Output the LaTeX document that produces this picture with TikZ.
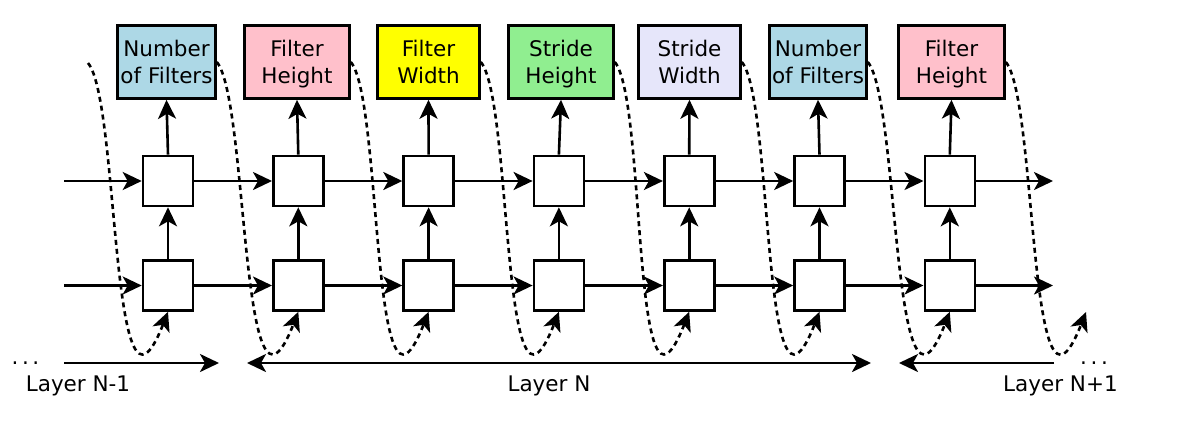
\documentclass[tikz,border=0pt]{standalone}
\usepackage{fontspec}
\setmainfont{DejaVu Sans}
\usetikzlibrary{arrows.meta}
\definecolor{cblue}{RGB}{173,216,230}
\definecolor{cpink}{RGB}{255,192,203}
\definecolor{cyellow}{RGB}{255,255,0}
\definecolor{cgreen}{RGB}{144,238,144}
\definecolor{clav}{RGB}{230,230,250}
\begin{document}
\begin{tikzpicture}[x=1pt,y=-1pt,
  every node/.style={font=\fontsize{21.5}{27}\selectfont},
  cell/.style={draw,line width=2.6pt,minimum width=50pt,minimum height=50pt,inner sep=0pt,fill=white},
  param/.style={draw,line width=2.6pt,minimum height=73pt,text depth=0pt,inner sep=0pt,align=center},
  tip/.style={},
  arr/.style={line width=2.6pt,-{Stealth[length=19pt,width=18pt,inset=5pt]}},
  dcurve/.style={arr,dash pattern=on 5pt off 4pt},
  lbl/.style={anchor=base}]
\useasboundingbox (0,0) rectangle (1181,421);
% cells
\foreach \i in {1,...,7}{
  \pgfmathsetmacro\cx{168+130.3*(\i-1)}
  \node[cell] (t\i) at (\cx,181) {};
  \node[cell] (d\i) at (\cx,285.5) {};
}
% parameter boxes
\node[param,fill=cblue,minimum width=98pt]   (b1) at (166.5,62) {Number\\of Filters};
\node[param,fill=cpink,minimum width=105pt]  (b2) at (297,62)   {Filter\\Height};
\node[param,fill=cyellow,minimum width=102pt](b3) at (428.5,62) {Filter\\Width};
\node[param,fill=cgreen,minimum width=105pt] (b4) at (561,62)   {Stride\\Height};
\node[param,fill=clav,minimum width=102pt]   (b5) at (689.5,62) {Stride\\Width};
\node[param,fill=cblue,minimum width=97pt]   (b6) at (818,62)   {Number\\of Filters};
\node[param,fill=cpink,minimum width=106pt]  (b7) at (951.5,62) {Filter\\Height};
% free ends
\coordinate (inT) at (64,181);
\coordinate (inD) at (64,285.5);
\coordinate (outT) at (1053,181);
\coordinate (outD) at (1053,285.5);
\coordinate (s0) at (88,63);
\coordinate (e8) at (1086,312);
% horizontal arrows
\draw[arr] (inT) -- (t1);
\draw[arr] (inD) -- (d1);
\foreach \i/\j in {1/2,2/3,3/4,4/5,5/6,6/7}{
  \draw[arr] (t\i) -- (t\j);
  \draw[arr] (d\i) -- (d\j);
}
\draw[arr] (t7) -- (outT);
\draw[arr] (d7) -- (outD);
% vertical arrows
\foreach \i in {1,...,7}{
  \draw[arr] (d\i) -- (t\i);
  \draw[arr] (t\i.north) -- (b\i.south);
}
% dashed curves
\draw[dcurve] (s0) .. controls +(32,38) and +(-58,148) .. (d1.south);
\foreach \i/\j in {1/2,2/3,3/4,4/5,5/6,6/7}{
  \draw[dcurve] (b\i.east) .. controls +(32,38) and +(-58,148) .. (d\j.south);
}
\draw[dcurve] (b7.east) .. controls +(32,38) and +(-58,148) .. (e8);
% layer arrows
\coordinate (l1a) at (64,363);   \coordinate (l1b) at (219,363);
\coordinate (l2a) at (247,363);  \coordinate (l2b) at (871,363);
\coordinate (l3a) at (1054,363); \coordinate (l3b) at (899,363);
\draw[arr] (l1a) -- (l1b);
\draw[line width=2.6pt,{Stealth[length=19pt,width=18pt,inset=5pt]}-{Stealth[length=19pt,width=18pt,inset=5pt]}] (l2a) -- (l2b);
\draw[arr] (l3a) -- (l3b);
% labels
\node[lbl] (ln1) at (78,391) {Layer N-1};
\node[lbl] (ln) at (549,391) {Layer N};
\node[lbl] (ln2) at (1060.5,391) {Layer N+1};
\node[lbl] (dl) at (25.5,364.5) {.\,.\,.};
\node[lbl] (dr) at (1094,364.5) {.\,.\,.};
\end{tikzpicture}
\end{document}
